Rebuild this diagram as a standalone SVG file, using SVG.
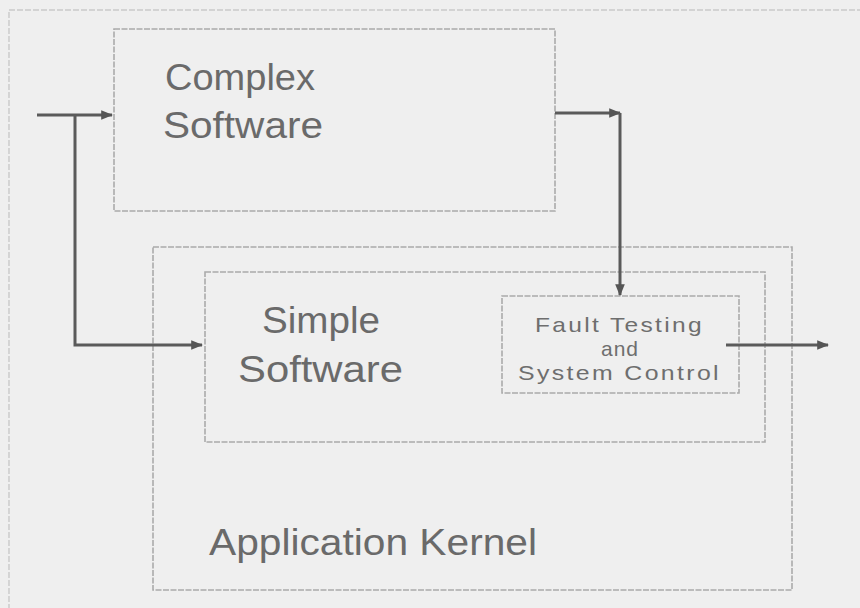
<svg xmlns="http://www.w3.org/2000/svg" width="860" height="608" viewBox="0 0 860 608">
<defs>
<style>
.box{fill:none;stroke:#ababab;stroke-width:1.6;stroke-dasharray:6 1.5}
.frame{fill:none;stroke:#cacaca;stroke-width:1.4;stroke-dasharray:6 2}
.wire{fill:none;stroke:#5a5a5a;stroke-width:3}
.big{font-family:"Liberation Sans",Arial,sans-serif;font-size:36px;fill:#6a6a6a}
.small{font-family:"Liberation Sans",Arial,sans-serif;font-size:21px;fill:#6e6e6e}
</style>
<marker id="arr" viewBox="0 0 10 10" refX="9" refY="5" markerWidth="4" markerHeight="4" orient="auto" markerUnits="strokeWidth">
<path d="M0,1 L10,5 L0,9 Z" fill="#555"/>
</marker>
</defs>
<rect width="860" height="608" fill="#efefef"/>
<rect class="frame" x="9" y="10" width="880" height="640"/>
<g id="complex">
<rect class="box" x="114" y="29" width="441" height="182"/>
<text class="big" x="165" y="90" textLength="150" lengthAdjust="spacingAndGlyphs">Complex</text>
<text class="big" x="163" y="138" textLength="160" lengthAdjust="spacingAndGlyphs">Software</text>
</g>
<g id="kernel">
<rect class="box" x="153" y="247" width="639" height="343"/>
<text class="big" x="209" y="555" textLength="328" lengthAdjust="spacingAndGlyphs">Application Kernel</text>
</g>
<g id="simple">
<rect class="box" x="205" y="272" width="560" height="170"/>
<text class="big" x="262" y="333" textLength="118" lengthAdjust="spacingAndGlyphs">Simple</text>
<text class="big" x="238" y="382" textLength="165" lengthAdjust="spacingAndGlyphs">Software</text>
</g>
<g id="fault">
<rect class="box" x="502" y="296" width="237" height="97"/>
<text class="small" x="535" y="332" textLength="169" lengthAdjust="spacingAndGlyphs" letter-spacing="2">Fault Testing</text>
<text class="small" x="620" y="356" text-anchor="middle" letter-spacing="1">and</text>
<text class="small" x="518" y="380" textLength="203" lengthAdjust="spacingAndGlyphs" letter-spacing="2">System Control</text>
</g>
<g id="connectors">
<path class="wire" d="M37,115 H112" marker-end="url(#arr)"/>
<path class="wire" d="M75,115 V345 H202" marker-end="url(#arr)"/>
<path class="wire" d="M555,113 H620" marker-end="url(#arr)"/>
<path class="wire" d="M620,113 V295" marker-end="url(#arr)"/>
<path class="wire" d="M726,345 H828" marker-end="url(#arr)"/>
</g>
</svg>
